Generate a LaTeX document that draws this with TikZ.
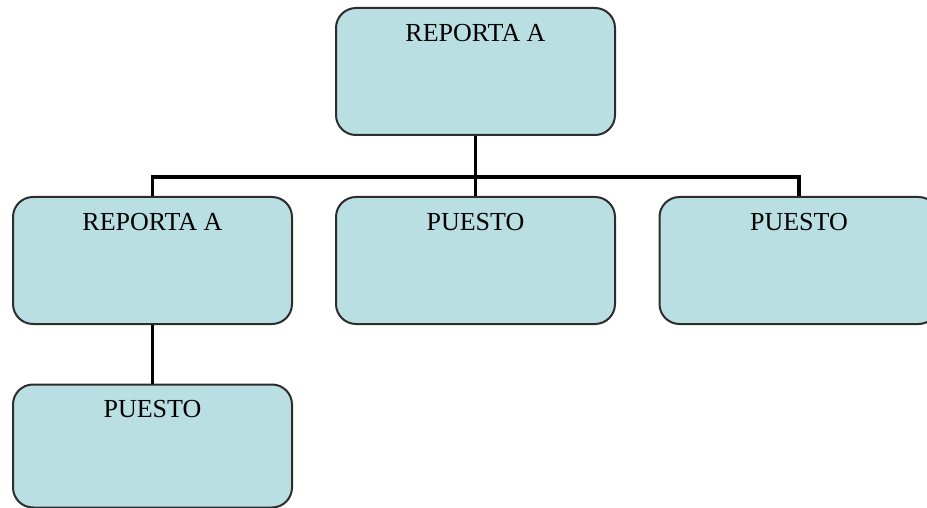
\documentclass[tikz,border=0pt]{standalone}
\usepackage{fontspec}
\setmainfont{Liberation Serif}
\usepackage{tikz}
\usetikzlibrary{calc}
\definecolor{boxfill}{RGB}{185,223,226}
\definecolor{boxline}{RGB}{45,45,45}

\tikzset{
  box/.style={draw=boxline, line width=2pt, fill=boxfill, rounded corners=20pt,
    minimum width=279pt, minimum height=127pt, inner sep=0pt},
  title/.style={anchor=north, inner sep=0pt, font=\fontsize{26}{30}\selectfont},
  link/.style={line width=3.5pt, black}
}

\begin{document}
\begin{tikzpicture}[x=1pt,y=-1pt]
\useasboundingbox (0,0) rectangle (927,508);
\clip (0,0) rectangle (927,508);
\node[box] (jefe) at (475.5,71.5) {};
\node[box] (reporta) at (152.5,260.5) {};
\node[box] (puestoB) at (475.5,260.5) {};
\node[box] (puestoC) at (799,260.5) {};
\node[box, minimum height=123pt] (puestoA) at (152.5,446) {};
\node[title] (jefe-t) at ($(jefe.north)+(0,17)$) {REPORTA A};
\node[title] (reporta-t) at ($(reporta.north)+(0,17)$) {REPORTA A};
\node[title] (puestoB-t) at ($(puestoB.north)+(0,17)$) {PUESTO};
\node[title] (puestoC-t) at ($(puestoC.north)+(0,17)$) {PUESTO};
\node[title] (puestoA-t) at ($(puestoA.north)+(0,17)$) {PUESTO};
\coordinate (bus) at (475.5,177);
\draw[link] (jefe.south) -- (bus);
\draw[link] (reporta.north) |- (bus);
\draw[link] (puestoC.north) |- (bus);
\draw[link] (puestoB.north) -- (puestoB.north |- bus);
\draw[link] (reporta.south) -- (puestoA.north);
\end{tikzpicture}
\end{document}
